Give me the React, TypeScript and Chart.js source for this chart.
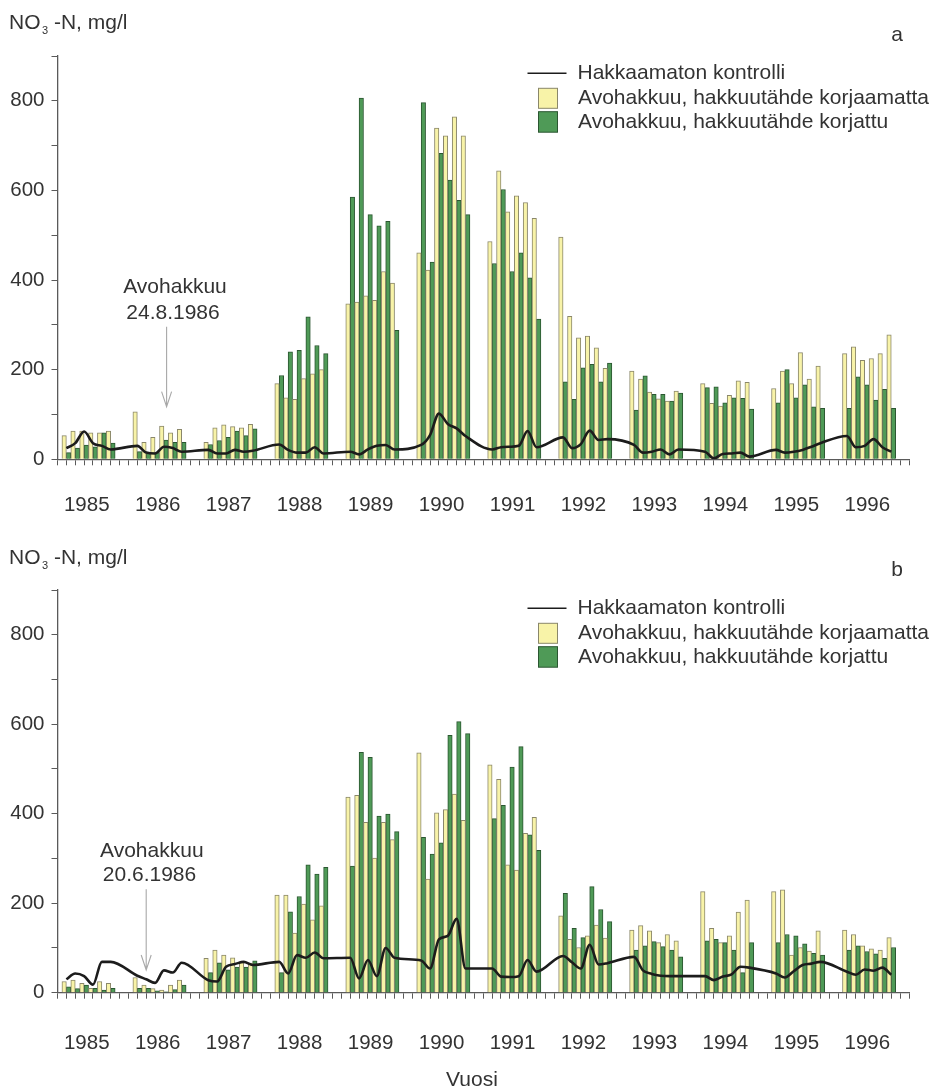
import React, { useEffect, useRef } from 'react';
import { Chart, registerables } from 'chart.js';

Chart.register(...registerables);

// Sampling slots: 8 per year on the time axis, one pair of bars per slot.
const years = ['1985', '1986', '1987', '1988', '1989', '1990', '1991', '1992', '1993', '1994', '1995', '1996'];
const SLOTS_PER_YEAR = 8;
const SLOT_COUNT = 95;
const yTicks = [0, 100, 200, 300, 400, 500, 600, 700, 800, 900];

const n = null;

// Panel a: NO3-N, mg/l
const yellowA = [
  53, 63, 63, 59, 59, 63, n, n,
  106, 38, 49, 74, 59, 67, n, n,
  38, 70, 77, 73, 70, 78, n, n,
  169, 137, 134, 180, 191, 200, n, n,
  347, 351, 365, 355, 419, 393, n, n,
  461, 422, 739, 722, 764, 722, n, n,
  486, 644, 552, 588, 573, 538, n, n,
  496, 319, 271, 275, 249, 203, n, n,
  197, 179, 150, 135, 130, 152, n, n,
  169, 125, 119, 143, 175, 172, n, n,
  158, 197, 169, 238, 179, 208, n, n,
  236, 251, 221, 225, 236, 278, n,
];
const greenA = [
  15, 25, 32, 28, 59, 36, n, n,
  17, 13, 15, 43, 38, 38, n, n,
  33, 42, 49, 63, 53, 68, n, n,
  187, 240, 243, 318, 254, 236, n, n,
  585, 806, 546, 521, 531, 288, n, n,
  796, 440, 683, 623, 578, 546, n, n,
  437, 602, 419, 461, 405, 313, n, n,
  173, 134, 204, 212, 173, 215, n, n,
  110, 186, 145, 145, 130, 148, n, n,
  160, 162, 126, 137, 136, 112, n, n,
  126, 200, 137, 166, 117, 114, n, n,
  114, 184, 166, 132, 156, 114, n,
];
const controlA = [
  25, 36, 62, 36, 30, 22, n, n,
  30, 15, 13, 28, 25, 17, n, n,
  21, 13, 13, 21, 17, 19, n, n,
  33, 21, 15, 15, 27, 13, n, n,
  17, 11, 22, 30, 32, 22, n, n,
  32, 54, 102, 79, 69, 52, n, n,
  22, 27, 28, 30, 63, 27, n, n,
  49, 25, 34, 64, 43, 45, n, n,
  32, 15, 17, 22, 11, 22, n, n,
  17, 2, 12, 13, 15, 6, n, n,
  21, 15, 17, 21, 28, 36, n, n,
  52, 27, 30, 45, 27, 17, n,
];

// Panel b: NO3-N, mg/l
const yellowB = [
  25, 28, 21, 10, 25, 21, n, n,
  34, 17, 9, 6, 17, 28, n, n,
  77, 95, 84, 78, 69, 66, n, n,
  218, 218, 133, 198, 163, 194, n, n,
  437, 441, 381, 301, 381, 342, n, n,
  536, 254, 402, 409, 444, 385, n, n,
  509, 477, 286, 274, 356, 392, n, n,
  172, 119, 101, 127, 151, 122, n, n,
  140, 150, 138, 112, 130, 116, n, n,
  226, 144, 112, 127, 180, 207, n, n,
  226, 230, 84, 101, 93, 138, n, n,
  140, 130, 105, 98, 95, 123, n,
];
const greenB = [
  13, 9, 17, 10, 6, 10, n, n,
  10, 10, 4, 2, 7, 17, n, n,
  45, 67, 51, 57, 57, 71, n, n,
  45, 181, 215, 286, 265, 280, n, n,
  283, 537, 526, 395, 399, 360, n, n,
  347, 310, 335, 575, 606, 579, n, n,
  389, 419, 504, 550, 353, 318, n, n,
  222, 144, 123, 237, 186, 159, n, n,
  95, 105, 114, 103, 95, 80, n, n,
  116, 119, 112, 95, 45, 112, n, n,
  112, 130, 127, 109, 88, 84, n, n,
  95, 105, 92, 87, 77, 101, n,
];
const controlB = [
  30, 43, 37, 18, 69, 69, n, n,
  38, 30, 22, 50, 45, 67, n, n,
  28, 25, 58, 64, 69, 62, n, n,
  69, 43, 84, 78, 90, 77, n, n,
  78, 32, 73, 37, 100, 78, n, n,
  72, 54, 119, 127, 165, 54, n, n,
  54, 36, 35, 37, 73, 47, n, n,
  82, 68, 54, 107, 63, 66, n, n,
  80, 50, 42, 38, 37, 37, n, n,
  37, 28, 36, 41, 58, 56, n, n,
  43, 34, 48, 62, 65, 69, n, n,
  47, 40, 52, 49, 56, 40, n,
];

const seriesLabels = [
  'Hakkaamaton kontrolli',
  'Avohakkuu, hakkuutähde korjaamatta',
  'Avohakkuu, hakkuutähde korjattu',
];

const FONT = '"Liberation Sans", Arial, Helvetica, sans-serif';
const TEXT = '#333333';
const AXIS = '#5a5a5a';
const YELLOW = '#f8f3a8';
const YELLOW_EDGE = '#8a876a';
const GREEN = '#4f9a57';
const GREEN_EDGE = '#2b5631';
const LINE = '#1c1c1c';

const toPoints = (arr: (number | null)[]) =>
  arr.flatMap((v, i) => (v == null ? [] : [{ x: i + 0.5, y: v }]));

const yearLabel = (value: number) => {
  const k = (value - 3) / SLOTS_PER_YEAR;
  return Number.isInteger(k) && k >= 0 && k < years.length ? years[k] : '';
};

// Draws the axis title, panel letter, legend, the clear-cut note and the x title.
const decorPlugin = {
  id: 'decor',
  afterDraw(chart: any, _args: any, opts: any) {
    const { ctx } = chart;
    const xs = chart.scales.x;
    ctx.save();
    ctx.fillStyle = TEXT;
    ctx.textAlign = 'left';
    ctx.textBaseline = 'alphabetic';

    // y-axis title with subscript
    ctx.font = `21px ${FONT}`;
    ctx.fillText('NO', 9, 29.3);
    const wNO = ctx.measureText('NO').width;
    ctx.font = `11px ${FONT}`;
    ctx.fillText('3', 9 + wNO + 1.5, 33.5);
    const w3 = ctx.measureText('3').width;
    ctx.font = `21px ${FONT}`;
    ctx.fillText(' -N, mg/l', 9 + wNO + 1.5 + w3, 29.3);

    // panel letter
    ctx.textAlign = 'center';
    ctx.textBaseline = 'middle';
    ctx.fillText(opts.letter, 897, 35.5);

    // legend
    ctx.textAlign = 'left';
    ctx.strokeStyle = LINE;
    ctx.lineWidth = 1.6;
    ctx.beginPath();
    ctx.moveTo(527.5, 73.3);
    ctx.lineTo(566.5, 73.3);
    ctx.stroke();
    ctx.fillText(seriesLabels[0], 577.5, 73.5);
    ctx.lineWidth = 1;
    ctx.fillStyle = YELLOW;
    ctx.fillRect(538.5, 88.3, 19, 20);
    ctx.strokeStyle = YELLOW_EDGE;
    ctx.strokeRect(538.5, 88.3, 19, 20);
    ctx.fillStyle = GREEN;
    ctx.fillRect(538.5, 111.7, 19, 20.5);
    ctx.strokeStyle = GREEN_EDGE;
    ctx.strokeRect(538.5, 111.7, 19, 20.5);
    ctx.fillStyle = TEXT;
    ctx.fillText(seriesLabels[1], 578, 98.5);
    ctx.fillText(seriesLabels[2], 578, 122);

    // clear-cut date note with arrow
    const ax = xs.getPixelForValue(opts.cutSlot);
    ctx.textAlign = 'center';
    ctx.textBaseline = 'alphabetic';
    ctx.fillText('Avohakkuu', ax + opts.dx1, opts.base1);
    ctx.fillText(opts.cutDate, ax + opts.dx2, opts.base2);
    ctx.strokeStyle = '#a8a8a8';
    ctx.lineWidth = 1.1;
    ctx.beginPath();
    ctx.moveTo(ax, opts.arrowTop);
    ctx.lineTo(ax, opts.arrowBottom);
    ctx.moveTo(ax - 5, opts.arrowBottom - 15);
    ctx.lineTo(ax, opts.arrowBottom);
    ctx.lineTo(ax + 5, opts.arrowBottom - 15);
    ctx.stroke();

    if (opts.xTitle) {
      ctx.fillStyle = TEXT;
      ctx.textBaseline = 'middle';
      ctx.fillText(opts.xTitle, 472, opts.xTitleY);
    }
    ctx.restore();
  },
};

type PanelProps = {
  top: number;
  height: number;
  areaTop: number;
  xAxisHeight: number;
  labelPad: number;
  yellow: (number | null)[];
  green: (number | null)[];
  control: (number | null)[];
  decor: any;
};

function Panel({ top, height, areaTop, xAxisHeight, labelPad, yellow, green, control, decor }: PanelProps) {
  const ref = useRef<HTMLCanvasElement | null>(null);

  useEffect(() => {
    if (!ref.current) return;
    const tickFont = { family: FONT, size: 20.5 };
    const chart = new Chart(ref.current, {
      type: 'bar',
      data: {
        datasets: [
          {
            type: 'line',
            label: seriesLabels[0],
            data: toPoints(control),
            borderColor: LINE,
            borderWidth: 2.6,
            pointRadius: 0,
            cubicInterpolationMode: 'monotone',
            order: 0,
          } as any,
          {
            label: seriesLabels[1],
            data: toPoints(yellow),
            backgroundColor: YELLOW,
            borderColor: YELLOW_EDGE,
            borderWidth: 1,
            order: 1,
          },
          {
            label: seriesLabels[2],
            data: toPoints(green),
            backgroundColor: GREEN,
            borderColor: GREEN_EDGE,
            borderWidth: 1,
            order: 1,
          },
        ],
      },
      options: {
        animation: false,
        responsive: false,
        maintainAspectRatio: false,
        events: [],
        datasets: { bar: { categoryPercentage: 1, barPercentage: 1 } },
        layout: { padding: { top: areaTop, right: 30, left: 0, bottom: 0 } },
        plugins: {
          legend: { display: false },
          tooltip: { enabled: false },
          decor,
        } as any,
        scales: {
          x: {
            type: 'linear',
            min: 0,
            max: SLOT_COUNT,
            afterBuildTicks: (axis: any) => {
              axis.ticks = Array.from({ length: SLOT_COUNT + 1 }, (_, i) => ({ value: i }));
            },
            afterFit: (axis: any) => {
              axis.height = xAxisHeight;
            },
            grid: { drawOnChartArea: false, drawTicks: true, tickLength: 6, color: AXIS, lineWidth: 1 },
            border: { display: true, color: AXIS, width: 1.3 },
            ticks: {
              autoSkip: false,
              maxRotation: 0,
              minRotation: 0,
              padding: labelPad,
              labelOffset: -1.8,
              color: TEXT,
              font: tickFont,
              callback: (v: any) => yearLabel(Number(v)),
            },
          },
          y: {
            type: 'linear',
            min: 0,
            max: 900,
            afterBuildTicks: (axis: any) => {
              axis.ticks = yTicks.map((v) => ({ value: v }));
            },
            afterFit: (axis: any) => {
              axis.width = 57.5;
            },
            grid: { drawOnChartArea: false, drawTicks: true, tickLength: 6, color: AXIS, lineWidth: 1 },
            border: { display: true, color: AXIS, width: 1.3 },
            ticks: {
              padding: 7,
              color: TEXT,
              font: tickFont,
              callback: (v: any) => (Number(v) % 200 === 0 ? String(v) : ''),
            },
          },
        },
      },
      plugins: [decorPlugin],
    });
    return () => chart.destroy();
  }, []);

  return (
    <canvas
      ref={ref}
      width={939}
      height={height}
      style={{ position: 'absolute', left: 0, top, width: 939, height, display: 'block' }}
    />
  );
}

export default function App() {
  return (
    <div style={{ position: 'absolute', left: 0, top: 0, width: 939, height: 1091, background: '#ffffff' }}>
      <Panel
        top={0}
        height={535}
        areaTop={56}
        xAxisHeight={75.7}
        labelPad={28}
        yellow={yellowA}
        green={greenA}
        control={controlA}
        decor={{
          letter: 'a',
          cutSlot: 11.8,
          cutDate: '24.8.1986',
          dx1: 8.4,
          dx2: 6.4,
          base1: 293,
          base2: 319,
          arrowTop: 326.7,
          arrowBottom: 406.7,
        }}
      />
      <Panel
        top={535}
        height={556}
        areaTop={55}
        xAxisHeight={98.3}
        labelPad={32}
        yellow={yellowB}
        green={greenB}
        control={controlB}
        decor={{
          letter: 'b',
          cutSlot: 9.5,
          cutDate: '20.6.1986',
          dx1: 5.6,
          dx2: 3.3,
          base1: 321.7,
          base2: 345.7,
          arrowTop: 354.3,
          arrowBottom: 435,
          xTitle: 'Vuosi',
          xTitleY: 545,
        }}
      />
    </div>
  );
}
